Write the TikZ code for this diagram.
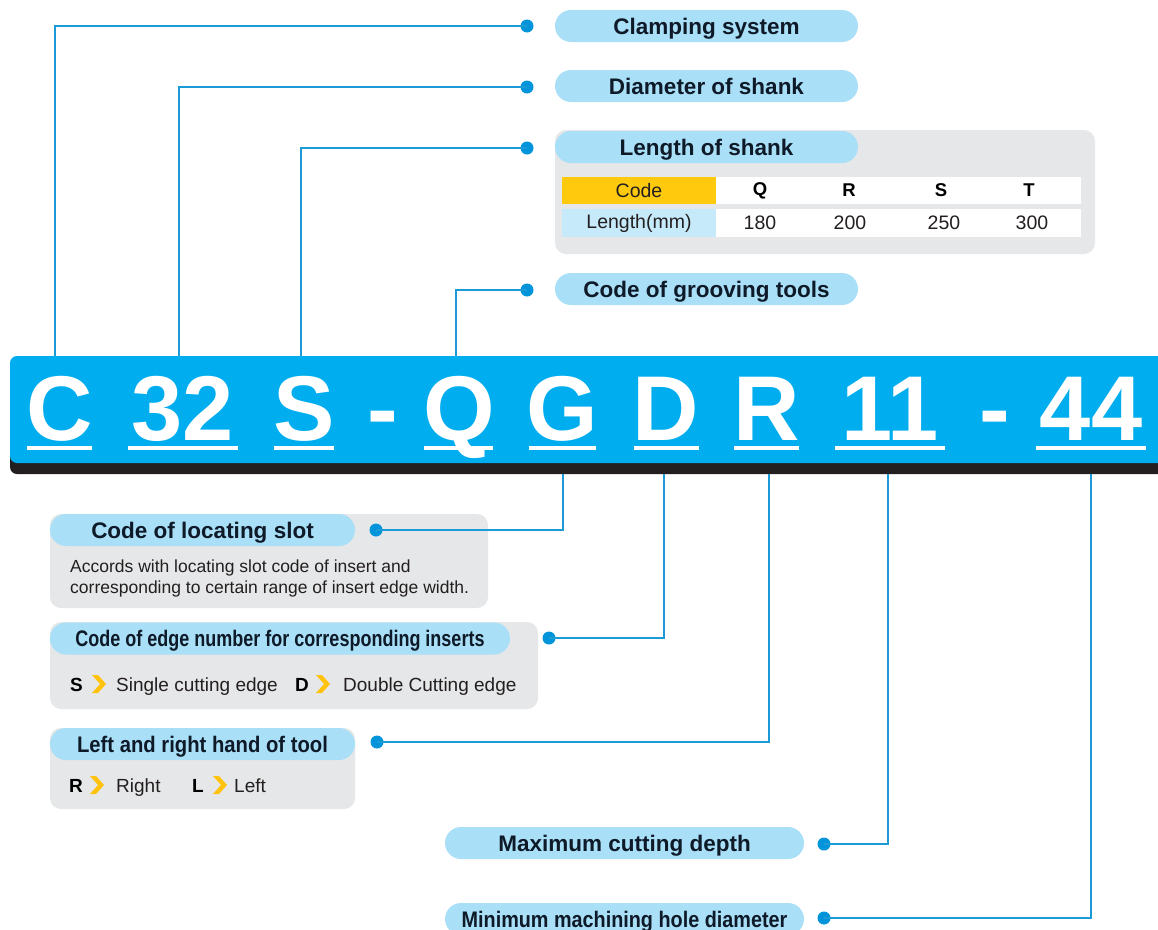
\documentclass[tikz,border=0pt]{standalone}
\usepackage{fontspec}
\setmainfont{Liberation Sans}
\usepackage{graphicx}
\definecolor{barblue}{HTML}{00AEEF}
\definecolor{shadow}{HTML}{231F20}
\definecolor{pillblue}{HTML}{AADFF8}
\definecolor{panelgrey}{HTML}{E6E7E8}
\definecolor{navy}{HTML}{0E1A28}
\definecolor{dotblue}{HTML}{0095DA}
\definecolor{lineblue}{HTML}{1C9AD6}
\definecolor{codeorange}{HTML}{FFC90D}
\definecolor{lenblue}{HTML}{C7EAFA}
\definecolor{chevy}{HTML}{FFC20E}
\definecolor{bodytext}{HTML}{231F20}
\begin{document}
\begin{tikzpicture}[x=1pt,y=-1pt,
  pill/.style={fill=pillblue, rounded corners=16pt, minimum height=32pt, text=navy, inner sep=0pt, text height=16pt, text depth=0pt, font=\fontsize{22.5}{26}\selectfont\bfseries},
  dotnode/.style={circle, fill=dotblue, minimum size=13pt, inner sep=0pt},
  conn/.style={draw=lineblue, line width=1.2pt},
  big/.style={anchor=base, text=white, inner sep=0pt, font=\fontsize{92}{92}\selectfont\bfseries},
  uline/.style={draw=white, line width=4pt},
  panel/.style={fill=panelgrey, rounded corners=11pt},
  body/.style={text=bodytext, inner sep=0pt, font=\fontsize{17.5}{20}\selectfont},
  line2/.style={text=bodytext, inner sep=0pt, anchor=base west, font=\fontsize{19}{22}\selectfont},
  key/.style={text=black, inner sep=0pt, anchor=base west, font=\fontsize{19}{22}\selectfont\bfseries},
  cell/.style={inner sep=0pt, font=\fontsize{19.5}{22}\selectfont, text=bodytext},
  bcell/.style={inner sep=0pt, font=\fontsize{18.5}{22}\selectfont\bfseries, text=black},
  chev/.pic={\fill[chevy] (0,-9) -- (6,-9) -- (14,0) -- (6,9) -- (0,9) -- (8,0) -- cycle;}
]
\useasboundingbox (0,0) rectangle (1158,929);
\fill[white] (0,0) rectangle (1158,929);

% ---------- code bar ----------
\fill[shadow, rounded corners=7pt] (10,370) rectangle (1180,474);
\fill[barblue, rounded corners=7pt] (10,356) rectangle (1180,463);

\node[big] (lC)  at (60,440)  {C};
\node[big] (l32) at (183,440) {32};
\node[big] (lS)  at (304,440) {S};
\node[big] (lh1) at (383,440) {-};
\node[big] (lQ)  at (459,440) {Q};
\node[big] (lG)  at (562,440) {G};
\node[big] (lD)  at (666,440) {D};
\node[big] (lR)  at (767,440) {R};
\node[big] (l11) at (890,440) {11};
\node[big] (lh2) at (995,440) {-};
\node[big] (l44) at (1091,440) {44};

\draw[uline] (27,448) -- (92,448);
\draw[uline] (128,448) -- (238,448);
\draw[uline] (274,448) -- (334,448);
\draw[uline] (424,448) -- (493,448);
\draw[uline] (529,448) -- (596,448);
\draw[uline] (634,448) -- (699,448);
\draw[uline] (734,448) -- (799,448);
\draw[uline] (835,448) -- (945,448);
\draw[uline] (1036,448) -- (1146,448);

% bar attachment points
\coordinate (t1) at (55,356);
\coordinate (t2) at (179,356);
\coordinate (t3) at (301,356);
\coordinate (t4) at (456,356);
\coordinate (b5) at (563,474);
\coordinate (b6) at (664,474);
\coordinate (b7) at (769,474);
\coordinate (b8) at (888,474);
\coordinate (b9) at (1091,474);

% ---------- top labels ----------
\node[pill, minimum width=303pt] (p1) at (706.5,26) {Clamping system};
\node[pill, minimum width=303pt] (p2) at (706.5,86) {Diameter of shank};

\fill[panel] (555,130) rectangle (1095,254);
\node[pill, minimum width=303pt] (p3) at (706.5,147) {Length of shank};
% table
\fill[codeorange] (562,177) rectangle (716,204);
\fill[white] (716,177) rectangle (1081,204);
\fill[lenblue] (562,209) rectangle (716,237);
\fill[white] (716,209) rectangle (1081,237);
\node[cell] (tc) at (639,190.5) {Code};
\node[bcell] (tq) at (760,190.5) {Q};
\node[bcell] (tr) at (849,190.5) {R};
\node[bcell] (ts) at (941,190.5) {S};
\node[bcell] (tt) at (1029,190.5) {T};
\node[cell] (tl) at (639,223) {Length(mm)};
\node[cell] (v1) at (760,223) {180};
\node[cell] (v2) at (850,223) {200};
\node[cell] (v3) at (944,223) {250};
\node[cell] (v4) at (1032,223) {300};

\node[pill, minimum width=303pt] (p4) at (706.5,289) {Code of grooving tools};

\node[dotnode] (d1) at (527,26) {};
\node[dotnode] (d2) at (527,87) {};
\node[dotnode] (d3) at (527,148) {};
\node[dotnode] (d4) at (527,290) {};
\draw[conn] (d1.center) -| (t1);
\draw[conn] (d2.center) -| (t2);
\draw[conn] (d3.center) -| (t3);
\draw[conn] (d4.center) -| (t4);

% ---------- bottom labels ----------
\fill[panel] (50,514) rectangle (488,608);
\node[pill, minimum width=305pt] (p5) at (202.5,530) {Code of locating slot};
\node[body, anchor=base west] (s5a) at (70,572) {Accords with locating slot code of insert and};
\node[body, anchor=base west] (s5b) at (70,593) {corresponding to certain range of insert edge width.};

\fill[panel] (50,622) rectangle (538,709);
\node[pill, minimum width=460pt] (p6) at (280,638.5) {\scalebox{0.8}[1]{Code of edge number for corresponding inserts}};
\node[key] (k6s) at (70,691) {S};
\pic at (92,684) {chev};
\node[line2] (k6st) at (116,691) {Single cutting edge};
\node[key] (k6d) at (295,691) {D};
\pic at (316,684) {chev};
\node[line2] (k6dt) at (343,691) {Double Cutting edge};

\fill[panel] (50,728) rectangle (355,809);
\node[pill, minimum width=305pt] (p7) at (202.5,744) {\scalebox{0.9}[1]{Left and right hand of tool}};
\node[key] (k7r) at (69,792) {R};
\pic at (90,785) {chev};
\node[line2] (k7rt) at (116,792) {Right};
\node[key] (k7l) at (192,792) {L};
\pic at (213,785) {chev};
\node[line2] (k7lt) at (234,792) {Left};

\node[pill, minimum width=359pt] (p8) at (624.5,843) {Maximum cutting depth};
\node[pill, minimum width=359pt] (p9) at (624.5,919) {\scalebox{0.88}[1]{Minimum machining hole diameter}};

\node[dotnode] (d5) at (376,530) {};
\node[dotnode] (d6) at (549,638) {};
\node[dotnode] (d7) at (377,742) {};
\node[dotnode] (d8) at (824,844) {};
\node[dotnode] (d9) at (824,918) {};
\draw[conn] (b5) |- (d5.center);
\draw[conn] (b6) |- (d6.center);
\draw[conn] (b7) |- (d7.center);
\draw[conn] (b8) |- (d8.center);
\draw[conn] (b9) |- (d9.center);
\end{tikzpicture}
\end{document}
